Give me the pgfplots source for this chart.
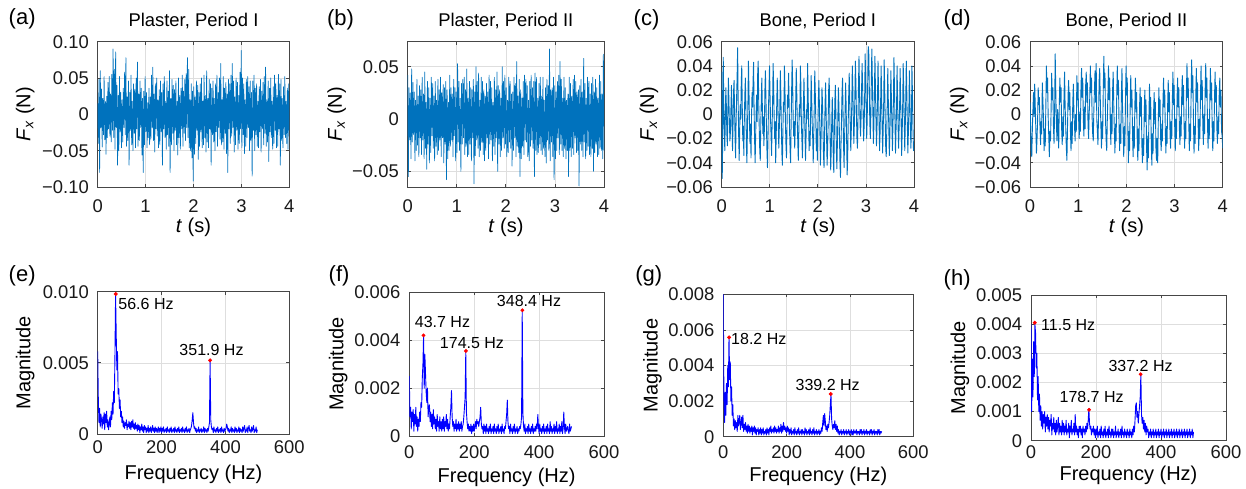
\documentclass[border=0pt]{standalone}
\usepackage{fontspec}
\setmainfont{Liberation Sans}
\usepackage{pgfplots}
\usepackage{pgfplotstable}
\pgfplotsset{compat=1.18}
\definecolor{mblue}{RGB}{0,114,189}
\definecolor{axgray}{RGB}{70,70,70}

% ---- time signals, values in mN ----
\pgfplotstableread[header=false,row sep=\\]{
15\\-40\\48\\-80\\60\\-18\\35\\-45\\22\\-28\\52\\-35\\18\\-55\\25\\-32\\44\\-20\\52\\-30\\
28\\-38\\55\\-22\\90\\-32\\62\\-48\\86\\-18\\40\\-70\\26\\-50\\52\\-24\\30\\-46\\20\\-38\\
36\\-18\\58\\-28\\78\\-44\\24\\-36\\46\\-70\\30\\-22\\54\\-42\\18\\-50\\42\\-26\\34\\-46\\
50\\-20\\72\\-44\\28\\-36\\46\\-18\\36\\-56\\22\\-80\\32\\-42\\52\\-24\\30\\-46\\16\\-32\\
36\\-42\\24\\-34\\54\\-18\\65\\-36\\28\\-52\\42\\-20\\50\\-30\\20\\-46\\34\\-42\\46\\-24\\
30\\-70\\42\\-20\\52\\-32\\18\\-48\\46\\-28\\32\\-44\\60\\-80\\22\\-42\\48\\-26\\40\\-50\\
34\\-22\\46\\-42\\18\\-56\\50\\-32\\26\\-48\\36\\-20\\54\\-44\\32\\-26\\48\\-36\\56\\-18\\
78\\-32\\62\\-46\\20\\-50\\42\\-60\\32\\-92\\38\\-55\\24\\-40\\46\\-22\\40\\-62\\30\\-44\\
42\\-24\\50\\-46\\18\\-42\\54\\-32\\26\\-52\\60\\-38\\22\\-46\\48\\-20\\42\\-70\\36\\-28\\
46\\-38\\22\\-50\\42\\-24\\54\\-44\\30\\-18\\50\\-34\\70\\-42\\20\\-38\\52\\-48\\36\\-26\\
44\\-54\\28\\-80\\48\\-20\\42\\-40\\54\\-30\\70\\-18\\46\\-52\\24\\-42\\50\\-22\\44\\-48\\
26\\-40\\58\\-20\\88\\-46\\50\\-28\\42\\-54\\20\\-44\\48\\-32\\52\\-18\\38\\-50\\46\\-36\\
30\\-85\\46\\-22\\54\\-50\\36\\-28\\42\\-44\\18\\-46\\38\\-24\\48\\-52\\32\\-20\\44\\-42\\
52\\-26\\65\\-44\\20\\-38\\46\\-65\\36\\-24\\50\\-32\\18\\-48\\38\\-40\\54\\-22\\42\\-46\\
26\\-44\\55\\-20\\42\\-70\\48\\-36\\22\\-46\\38\\-28\\52\\-32\\18\\-40\\36\\-48\\42\\-22\\
}\dataA
\pgfplotstableread[header=false,row sep=\\]{
42\\-55\\30\\-20\\25\\-38\\48\\-22\\35\\-15\\26\\-40\\18\\-30\\38\\-25\\22\\-36\\32\\-18\\
28\\-34\\40\\-20\\24\\-38\\45\\-28\\16\\-48\\36\\-24\\30\\-42\\20\\-32\\40\\-16\\34\\-28\\
22\\-40\\36\\-26\\18\\-34\\38\\-30\\28\\-20\\40\\-36\\25\\-18\\33\\-42\\30\\-24\\36\\-58\\
28\\-38\\16\\-30\\42\\-26\\30\\-20\\24\\-36\\38\\-16\\30\\-40\\26\\-32\\53\\-22\\36\\-30\\
20\\-50\\34\\-24\\38\\-18\\40\\-34\\28\\-26\\48\\-36\\20\\-34\\36\\-24\\30\\-40\\28\\-18\\
38\\-62\\26\\-35\\50\\-20\\36\\-28\\44\\-36\\18\\-30\\40\\-22\\36\\-34\\28\\-40\\22\\-30\\
34\\-18\\26\\-38\\42\\-24\\36\\-20\\30\\-40\\16\\-26\\40\\-34\\28\\-18\\45\\-50\\32\\-24\\
28\\-36\\20\\-30\\50\\-18\\36\\-28\\42\\-24\\30\\-36\\18\\-32\\40\\-22\\36\\-28\\24\\-45\\
26\\-30\\40\\-18\\34\\-36\\55\\-26\\22\\-32\\38\\-55\\28\\-38\\20\\-26\\36\\-34\\42\\-20\\
38\\-22\\32\\-36\\18\\-40\\36\\-26\\42\\-20\\30\\-28\\36\\-55\\44\\-30\\40\\-34\\20\\-32\\
34\\-24\\40\\-30\\22\\-34\\40\\-28\\18\\-36\\30\\-42\\38\\-20\\32\\-30\\67\\-40\\28\\-22\\
30\\-36\\40\\-58\\32\\-38\\26\\-30\\36\\-18\\42\\-34\\55\\-24\\38\\-30\\20\\-36\\40\\-28\\
30\\-38\\18\\-30\\24\\-55\\40\\-30\\34\\-36\\22\\-28\\38\\-34\\42\\-18\\36\\-32\\26\\-30\\
28\\-64\\32\\-24\\38\\-30\\26\\-36\\58\\-22\\34\\-38\\20\\-30\\40\\-26\\36\\-34\\24\\-36\\
34\\-28\\40\\-50\\26\\-32\\38\\-24\\30\\-36\\20\\-34\\42\\-28\\36\\-30\\24\\-38\\62\\-30\\
}\dataB
\pgfplotstableread[header=false,row sep=\\]{
35\\-53\\-20\\47\\10\\-12\\-30\\-4\\22\\8\\-16\\-26\\3\\30\\12\\-8\\-22\\-14\\6\\24\\-2\\-30\\-10\\18\\28\\
4\\-20\\-36\\-6\\14\\32\\55\\10\\-18\\-38\\-12\\8\\-4\\26\\40\\6\\-22\\-10\\-34\\-4\\16\\30\\8\\-26\\-40\\
-14\\10\\44\\20\\-6\\-24\\-8\\-36\\-2\\18\\6\\28\\43\\4\\-22\\-40\\-18\\2\\16\\-6\\34\\44\\10\\-12\\-30\\
-38\\-8\\12\\30\\8\\-16\\-2\\-26\\-12\\20\\36\\14\\-10\\-30\\-44\\-20\\6\\22\\40\\16\\-4\\-18\\-34\\-10\\10\\
42\\24\\-2\\-20\\-6\\-40\\-18\\8\\30\\14\\-6\\-28\\-12\\4\\36\\18\\-10\\-32\\-42\\-14\\10\\2\\40\\22\\-8\\
-26\\-36\\-10\\16\\6\\34\\12\\-14\\-30\\-40\\-8\\20\\45\\26\\-4\\-18\\-6\\-28\\-12\\14\\38\\18\\-6\\-24\\-38\\
-14\\8\\-2\\40\\24\\-8\\-22\\-36\\-12\\10\\30\\6\\-16\\-38\\-20\\4\\-4\\42\\20\\-6\\-30\\-14\\-26\\4\\32\\
14\\-8\\-20\\-40\\-16\\6\\36\\18\\-4\\-30\\-12\\-38\\-10\\12\\28\\8\\-16\\-42\\-24\\-4\\22\\10\\-12\\-34\\-44\\
-18\\8\\26\\4\\-20\\-42\\-28\\-8\\20\\30\\6\\-24\\-46\\-30\\-6\\14\\-2\\-38\\-48\\-16\\10\\24\\2\\-30\\-45\\
-24\\0\\22\\6\\-18\\-40\\-52\\-26\\-4\\18\\30\\2\\-26\\-44\\-20\\4\\26\\8\\-22\\-50\\-36\\-8\\16\\34\\12\\
-10\\-30\\-14\\10\\40\\22\\-4\\-24\\-8\\16\\44\\26\\2\\-20\\-28\\-6\\24\\48\\20\\-8\\-18\\-4\\20\\42\\24\\
0\\-22\\-10\\14\\50\\30\\6\\-20\\-4\\28\\56\\52\\24\\-6\\-20\\-2\\30\\54\\28\\2\\-24\\-10\\18\\48\\22\\
-4\\-26\\-12\\12\\44\\20\\-6\\-30\\-16\\6\\40\\18\\-10\\-32\\-14\\8\\45\\22\\-4\\-28\\-35\\-14\\10\\38\\12\\
-12\\-34\\-18\\4\\36\\14\\-8\\-30\\-10\\12\\47\\22\\-6\\-32\\-14\\2\\40\\16\\-10\\-28\\-12\\6\\38\\14\\-8\\
-34\\-16\\8\\42\\20\\-4\\-30\\-10\\14\\44\\18\\-8\\-32\\-16\\4\\36\\12\\-12\\-28\\-8\\40\\16\\-10\\-30\\-28\\
}\dataC
\pgfplotstableread[header=false,row sep=\\]{
10\\-8\\-30\\-35\\-12\\4\\18\\-2\\25\\6\\-14\\-32\\-20\\-4\\22\\8\\14\\-10\\-25\\-6\\-16\\26\\
12\\-4\\-30\\-12\\-26\\6\\40\\18\\30\\-2\\-18\\-35\\-14\\-22\\4\\34\\12\\22\\-10\\-24\\2\\50\\
20\\-6\\-22\\4\\-14\\-28\\8\\30\\10\\22\\-12\\-25\\-2\\-18\\14\\35\\6\\-10\\-28\\-38\\-12\\16\\
28\\4\\18\\-14\\-30\\-6\\-24\\10\\25\\2\\-10\\-22\\0\\-14\\32\\12\\26\\-4\\-20\\2\\-14\\22\\
38\\14\\30\\-4\\-18\\6\\-12\\24\\35\\10\\26\\-8\\-20\\0\\14\\40\\18\\30\\-2\\-16\\-22\\4\\
20\\36\\10\\42\\-4\\-14\\-25\\-2\\28\\38\\12\\-10\\-28\\-6\\-20\\18\\48\\22\\34\\-6\\-22\\-30\\
-4\\16\\40\\12\\30\\-8\\-25\\0\\-16\\20\\35\\8\\-14\\-32\\-8\\-22\\14\\40\\16\\28\\-10\\-30\\
-8\\-24\\16\\38\\6\\-14\\-35\\-10\\-26\\12\\40\\16\\30\\-12\\-40\\-14\\-30\\8\\32\\6\\20\\-16\\
-35\\-10\\-28\\8\\30\\2\\18\\-20\\-38\\-12\\-30\\6\\22\\-2\\14\\-26\\-40\\-20\\-34\\0\\20\\-6\\
12\\-28\\-46\\-18\\-36\\-2\\25\\-4\\14\\-24\\-42\\-16\\-32\\2\\18\\-8\\10\\-28\\-38\\-20\\-40\\-6\\
22\\-2\\12\\-20\\-30\\-8\\-22\\10\\30\\6\\20\\-14\\-32\\-10\\-24\\8\\28\\2\\18\\-16\\-28\\-6\\
-20\\12\\35\\8\\24\\-10\\-30\\-4\\-20\\12\\30\\6\\22\\-12\\-25\\-2\\-18\\16\\32\\8\\24\\-8\\
-28\\-6\\-20\\18\\42\\14\\30\\-6\\-30\\-8\\-22\\16\\45\\18\\32\\-4\\-32\\-10\\-24\\14\\38\\10\\
26\\-8\\-30\\-4\\-20\\14\\40\\12\\28\\-10\\-25\\0\\-16\\20\\42\\14\\30\\-8\\-28\\-4\\-20\\12\\
38\\12\\26\\-10\\-30\\-6\\-22\\14\\35\\10\\24\\-12\\-24\\-2\\-16\\16\\30\\6\\20\\-14\\-18\\-28\\
}\dataD
% ---- spectra, 0 to 500 Hz in 2 Hz steps, values in units of 1e-4 ----
\pgfplotstableread[header=false,row sep=\\]{
58\\24\\8\\18\\5\\14\\10\\4\\12\\7\\15\\3\\14\\8\\16\\5\\10\\3\\7\\12\\5\\16\\10\\22\\14\\
30\\22\\55\\98\\70\\45\\58\\28\\32\\18\\24\\12\\16\\8\\12\\5\\9\\4\\8\\6\\10\\3\\7\\5\\9\\
4\\8\\3\\9\\5\\10\\4\\7\\3\\8\\4\\6\\2\\7\\3\\6\\1\\5\\3\\7\\2\\5\\1\\6\\3\\
5\\1\\4\\2\\6\\1\\4\\2\\5\\1\\3\\6\\2\\4\\1\\5\\2\\4\\1\\3\\5\\1\\4\\2\\5\\
1\\4\\2\\5\\1\\3\\2\\4\\1\\5\\2\\3\\1\\4\\2\\5\\1\\3\\2\\4\\1\\5\\2\\3\\1\\
4\\2\\5\\1\\3\\2\\4\\1\\5\\2\\3\\1\\4\\2\\5\\1\\3\\2\\4\\1\\3\\4\\6\\10\\15\\
8\\4\\5\\2\\4\\1\\3\\2\\5\\1\\3\\2\\4\\1\\3\\2\\5\\1\\4\\2\\3\\1\\4\\2\\5\\
8\\52\\10\\5\\3\\4\\1\\5\\2\\3\\1\\4\\2\\5\\1\\3\\2\\4\\1\\5\\2\\3\\1\\4\\2\\
3\\4\\7\\5\\2\\4\\1\\3\\2\\5\\1\\4\\2\\3\\1\\5\\2\\4\\1\\3\\2\\5\\1\\4\\2\\
3\\1\\5\\2\\4\\6\\1\\3\\2\\5\\1\\4\\6\\2\\3\\1\\5\\2\\4\\6\\1\\3\\2\\5\\1\\
3\\
}\dataE
\pgfplotstableread[header=false,row sep=\\]{
25\\8\\12\\3\\10\\6\\11\\2\\9\\5\\12\\4\\8\\2\\7\\4\\10\\6\\14\\12\\24\\30\\42\\20\\34\\
26\\18\\14\\20\\8\\12\\13\\6\\10\\4\\9\\3\\11\\5\\8\\3\\7\\2\\9\\4\\6\\2\\8\\3\\6\\
2\\7\\3\\8\\2\\6\\4\\9\\3\\7\\2\\5\\3\\8\\12\\19\\8\\4\\6\\2\\5\\3\\7\\2\\5\\
3\\6\\2\\5\\3\\6\\2\\4\\5\\8\\12\\16\\35\\10\\6\\3\\5\\2\\4\\2\\5\\1\\4\\2\\5\\
2\\4\\6\\3\\7\\5\\6\\4\\6\\8\\12\\5\\3\\4\\1\\5\\2\\4\\1\\5\\2\\3\\1\\4\\2\\
5\\1\\3\\2\\4\\1\\5\\2\\3\\1\\4\\2\\5\\1\\3\\2\\4\\1\\5\\2\\3\\1\\4\\3\\6\\
9\\15\\6\\3\\4\\1\\5\\2\\3\\1\\4\\2\\5\\1\\3\\2\\4\\1\\3\\2\\4\\3\\5\\8\\52\\
10\\4\\2\\5\\1\\3\\2\\4\\1\\5\\2\\3\\1\\4\\2\\5\\1\\3\\2\\4\\2\\5\\3\\9\\4\\
1\\5\\2\\3\\1\\4\\2\\5\\1\\3\\2\\4\\1\\5\\2\\3\\1\\6\\2\\4\\1\\3\\2\\5\\1\\
4\\2\\6\\1\\3\\2\\5\\1\\4\\2\\6\\1\\3\\10\\4\\1\\5\\2\\3\\4\\2\\1\\5\\2\\3\\
4\\
}\dataF
\pgfplotstableread[header=false,row sep=\\]{
80\\20\\8\\25\\12\\30\\18\\40\\28\\56\\32\\42\\20\\28\\12\\18\\6\\10\\4\\9\\5\\8\\3\\12\\6\\
9\\12\\4\\8\\11\\5\\12\\3\\7\\4\\8\\3\\6\\2\\7\\3\\6\\2\\5\\3\\6\\1\\5\\3\\6\\
2\\5\\1\\4\\3\\5\\1\\4\\2\\5\\1\\4\\2\\5\\1\\3\\2\\4\\1\\5\\2\\4\\1\\5\\3\\
6\\2\\4\\3\\5\\2\\6\\3\\5\\2\\4\\3\\6\\2\\5\\3\\7\\2\\6\\3\\8\\4\\6\\3\\5\\
2\\6\\3\\5\\1\\4\\2\\5\\1\\3\\2\\4\\1\\5\\2\\3\\1\\4\\2\\5\\1\\3\\2\\4\\1\\
4\\2\\3\\1\\5\\2\\4\\1\\3\\2\\4\\1\\5\\2\\3\\1\\4\\2\\5\\1\\3\\2\\4\\1\\3\\
2\\4\\1\\3\\2\\5\\3\\8\\12\\6\\13\\9\\4\\6\\3\\7\\5\\8\\12\\18\\24\\10\\6\\4\\7\\
5\\9\\4\\7\\3\\6\\2\\4\\1\\3\\2\\4\\1\\3\\2\\4\\1\\3\\2\\4\\1\\3\\2\\4\\1\\
3\\2\\4\\1\\3\\1\\4\\2\\3\\2\\4\\1\\3\\2\\3\\1\\4\\2\\4\\1\\3\\2\\4\\1\\3\\
2\\4\\1\\3\\2\\3\\1\\4\\2\\4\\1\\3\\2\\4\\1\\3\\2\\3\\1\\4\\2\\4\\1\\3\\2\\
3\\
}\dataG
\pgfplotstableread[header=false,row sep=\\]{
40\\10\\28\\15\\34\\22\\40\\37\\25\\30\\14\\22\\10\\16\\7\\12\\5\\10\\4\\9\\6\\10\\3\\8\\5\\
9\\4\\8\\3\\7\\5\\9\\2\\6\\4\\8\\3\\6\\2\\7\\3\\5\\8\\2\\6\\3\\5\\2\\7\\3\\
6\\2\\5\\3\\7\\2\\4\\3\\6\\1\\5\\3\\7\\2\\4\\3\\6\\2\\9\\3\\5\\2\\4\\1\\5\\
3\\5\\2\\4\\1\\5\\3\\4\\2\\5\\3\\6\\4\\7\\11\\6\\4\\5\\2\\4\\3\\5\\2\\4\\1\\
4\\2\\5\\1\\3\\2\\4\\1\\5\\2\\3\\1\\4\\2\\5\\1\\3\\2\\4\\1\\5\\2\\3\\1\\4\\
2\\4\\1\\3\\2\\5\\1\\3\\2\\4\\1\\3\\2\\4\\1\\5\\2\\3\\1\\4\\2\\3\\1\\4\\2\\
3\\1\\4\\2\\3\\1\\4\\2\\5\\3\\7\\12\\13\\8\\10\\6\\9\\12\\15\\23\\9\\6\\8\\4\\7\\
3\\6\\2\\5\\3\\4\\1\\3\\2\\4\\1\\3\\2\\4\\1\\3\\2\\4\\1\\3\\2\\4\\1\\3\\2\\
4\\1\\3\\2\\4\\1\\3\\2\\4\\1\\3\\2\\4\\1\\3\\2\\4\\1\\3\\2\\4\\1\\3\\2\\4\\
1\\3\\2\\4\\1\\3\\2\\4\\1\\3\\2\\4\\1\\3\\2\\4\\1\\3\\2\\4\\1\\3\\2\\4\\1\\
3\\
}\dataH

\pgfplotstablegetrowsof{\dataA}\edef\nA{\pgfplotsretval}
\pgfplotstablegetrowsof{\dataB}\edef\nB{\pgfplotsretval}
\pgfplotstablegetrowsof{\dataC}\edef\nC{\pgfplotsretval}
\pgfplotstablegetrowsof{\dataD}\edef\nD{\pgfplotsretval}

\tikzset{pl/.style={font=\fontsize{8}{9}\selectfont, inner sep=0pt, anchor=center}}

\pgfplotsset{
  mat/.style={
    scale only axis,
    anchor=north west,
    axis line style={draw=axgray, line width=0.4pt},
    tick style={draw=axgray, line width=0.4pt},
    major tick length=1.5pt,
    tick align=inside,
    grid=major,
    major grid style={draw=black!13, line width=0.35pt},
    ticklabel style={font=\fontsize{9.2}{10}\selectfont, text=black!90, inner sep=0pt},
    yticklabel style={anchor=east, xshift=-4.25pt},
    xticklabel style={anchor=center},
    label style={font=\fontsize{9.2}{10}\selectfont},
    every axis y label/.style={rotate=90, anchor=center},
    every axis x label/.style={anchor=center},
    scaled ticks=false,
  },
  tsig/.style={mat, xmin=0, xmax=4, xtick={0,1,2,3,4}, xticklabels={0,1,2,3,4},
    xticklabel style={yshift=-9.5pt},
    xlabel={\textit{t} (s)}, ylabel={\textit{F}\textsubscript{\textit{x}} (N)},
    xlabel style={at={(axis description cs:0.5,-0.278)}}},
  spec/.style={mat, xmin=0, xmax=600, ymin=0, xtick={0,200,400,600}, xticklabels={0,200,400,600},
    xlabel={Frequency (Hz)}, ylabel={Magnitude}},
  sline/.style={mblue, line width=0.35pt, line join=round},
  cline/.style={mblue, line width=0.45pt, line join=round},
  fline/.style={blue, line width=0.45pt, line join=round},
  pk/.style={only marks, mark=*, mark size=0.75pt, red, mark options={draw=red, fill=red}},
}

\begin{document}
\begin{tikzpicture}
\useasboundingbox (0,0) rectangle (623pt,244pt);

% (a)
\begin{axis}[tsig, at={(48.85pt,223.15pt)}, width=95.8pt, height=72.65pt,
  ymin=-0.1, ymax=0.1, ytick={-0.1,-0.05,0,0.05,0.1}, yticklabels={−0.10,−0.05,0,0.05,0.10},
  ylabel style={at={(axis description cs:-0.379,0.5)}}]
\addplot[sline] table[x index=0, y index=0, x expr=\coordindex*4/(\nA-1), y expr=\thisrowno{0}/1000] {\dataA};
\end{axis}

% (b)
\begin{axis}[tsig, at={(203.85pt,223.15pt)}, width=98.15pt, height=72.65pt,
  ymin=-0.065, ymax=0.074, ytick={-0.05,0,0.05}, yticklabels={−0.05,0,0.05},
  ylabel style={at={(axis description cs:-0.362,0.5)}}]
\addplot[sline] table[x index=0, y index=0, x expr=\coordindex*4/(\nB-1), y expr=\thisrowno{0}/1000] {\dataB};
\end{axis}

% (c)
\begin{axis}[tsig, at={(360.85pt,223.15pt)}, width=96.15pt, height=72.65pt,
  ymin=-0.06, ymax=0.06, ytick={-0.06,-0.04,-0.02,0,0.02,0.04,0.06},
  yticklabels={−0.06,−0.04,−0.02,0,0.02,0.04,0.06},
  ylabel style={at={(axis description cs:-0.378,0.5)}}]
\addplot[cline] table[x index=0, y index=0, x expr=\coordindex*4/(\nC-1), y expr=\thisrowno{0}/1000] {\dataC};
\end{axis}

% (d)
\begin{axis}[tsig, at={(515pt,223.15pt)}, width=96.35pt, height=72.65pt,
  ymin=-0.06, ymax=0.06, ytick={-0.06,-0.04,-0.02,0,0.02,0.04,0.06},
  yticklabels={−0.06,−0.04,−0.02,0,0.02,0.04,0.06},
  ylabel style={at={(axis description cs:-0.368,0.5)}}]
\addplot[cline] table[x index=0, y index=0, x expr=\coordindex*4/(\nD-1), y expr=\thisrowno{0}/1000] {\dataD};
\end{axis}

% (e)
\begin{axis}[spec, at={(48.85pt,98.15pt)}, width=95.8pt, height=71.15pt,
  ymax=0.01, ytick={0,0.005,0.01}, yticklabels={0,0.005,0.010},
  xticklabel style={yshift=-6.75pt},
  xlabel style={at={(axis description cs:0.5,-0.281)}},
  ylabel style={at={(axis description cs:-0.379,0.5)}}]
\addplot[fline] table[x index=0, y index=0, x expr=\coordindex*2, y expr=\thisrowno{0}/10000] {\dataE};
\addplot[pk] coordinates {(56.6,0.00984) (351.9,0.00518)};
\node[pl] at (axis cs:151.3,0.00914) {56.6 Hz};
\node[pl] at (axis cs:356.4,0.00587) {351.9 Hz};
\end{axis}

% (f)
\begin{axis}[spec, at={(204.65pt,97.85pt)}, width=97.35pt, height=71.85pt,
  ymax=0.006, ytick={0,0.002,0.004,0.006}, yticklabels={0,0.002,0.004,0.006},
  xticklabel style={yshift=-7.85pt},
  xlabel style={at={(axis description cs:0.5,-0.289)}},
  ylabel style={at={(axis description cs:-0.365,0.5)}}]
\addplot[fline] table[x index=0, y index=0, x expr=\coordindex*2, y expr=\thisrowno{0}/10000] {\dataF};
\addplot[pk] coordinates {(43.7,0.0042) (174.5,0.00355) (348.4,0.00525)};
\node[pl] at (axis cs:102.3,0.00474) {43.7 Hz};
\node[pl] at (axis cs:193.2,0.0039) {174.5 Hz};
\node[pl] at (axis cs:368.9,0.00564) {348.4 Hz};
\end{axis}

% (g)
\begin{axis}[spec, at={(361.65pt,96.85pt)}, width=95pt, height=71.2pt,
  ymax=0.008, ytick={0,0.002,0.004,0.006,0.008}, yticklabels={0,0.002,0.004,0.006,0.008},
  xticklabel style={yshift=-7.5pt},
  xlabel style={at={(axis description cs:0.5,-0.281)}},
  ylabel style={at={(axis description cs:-0.373,0.5)}}]
\addplot[fline] table[x index=0, y index=0, x expr=\coordindex*2, y expr=\thisrowno{0}/10000] {\dataG};
\addplot[pk] coordinates {(18.2,0.00558) (339.2,0.0024)};
\node[pl] at (axis cs:112.1,0.00548) {18.2 Hz};
\node[pl] at (axis cs:329.7,0.00289) {339.2 Hz};
\end{axis}

% (h)
\begin{axis}[spec, at={(515.5pt,96.5pt)}, width=97.5pt, height=72.85pt,
  ymax=0.005, ytick={0,0.001,0.002,0.003,0.004,0.005}, yticklabels={0,0.001,0.002,0.003,0.004,0.005},
  xticklabel style={yshift=-5.5pt},
  xlabel style={at={(axis description cs:0.5,-0.24)}},
  ylabel style={at={(axis description cs:-0.364,0.5)}}]
\addplot[fline] table[x index=0, y index=0, x expr=\coordindex*2, y expr=\thisrowno{0}/10000] {\dataH};
\addplot[pk] coordinates {(11.5,0.00405) (178.7,0.00106) (337.2,0.00228)};
\node[pl] at (axis cs:114.4,0.00398) {11.5 Hz};
\node[pl] at (axis cs:186.5,0.00151) {178.7 Hz};
\node[pl] at (axis cs:337.1,0.00256) {337.2 Hz};
\end{axis}

% titles
\begin{scope}[every node/.style={anchor=center, inner sep=0pt, font=\fontsize{9.2}{10}\selectfont}]
\node at (96.75pt,233.25pt) {Plaster, Period I};
\node at (252.9pt,233.25pt) {Plaster, Period II};
\node at (408.9pt,233.25pt) {Bone, Period I};
\node at (563.2pt,233.25pt) {Bone, Period II};
\end{scope}

% panel letters
\begin{scope}[every node/.style={anchor=west, inner sep=0pt, font=\fontsize{11}{12}\selectfont}]
\node at (4.15pt,234.5pt) {(a)};
\node at (163.35pt,233.85pt) {(b)};
\node at (316.65pt,234pt) {(c)};
\node at (471.65pt,234pt) {(d)};
\node at (4.15pt,106.1pt) {(e)};
\node at (164.15pt,106.1pt) {(f)};
\node at (317.5pt,106.1pt) {(g)};
\node at (471.65pt,104pt) {(h)};
\end{scope}
\end{tikzpicture}
\end{document}
